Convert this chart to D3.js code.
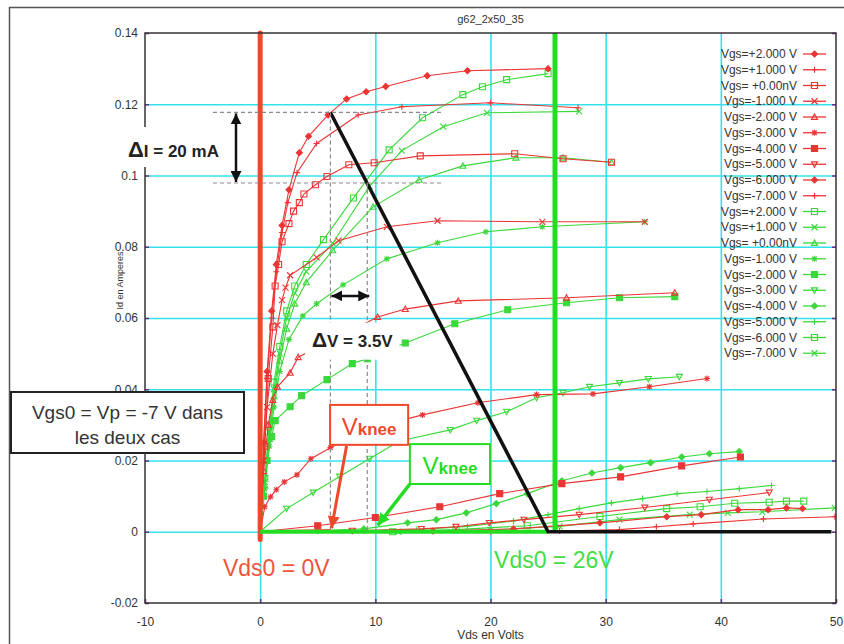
<!DOCTYPE html>
<html><head><meta charset="utf-8">
<script src="https://cdn.jsdelivr.net/npm/d3@7"></script>
<style>body{margin:0;background:#fff}svg{display:block;font-family:"Liberation Sans",Arial,sans-serif}</style>
</head><body>
<svg id="c" width="844" height="644"></svg>
<script>
// ---------- data ----------
const titleText = "g62_2x50_35";
const xTicks = [-10, 0, 10, 20, 30, 40, 50];
const xTickLabels = ["-10", "0", "10", "20", "30", "40", "50"];
const yTicks = [-0.02, 0, 0.02, 0.04, 0.06, 0.08, 0.1, 0.12, 0.14];
const yTickLabels = ["-0.02", "0", "0.02", "0.04", "0.06", "0.08", "0.1", "0.12", "0.14"];
const gridX = [0, 10, 20, 30, 40];
const gridY = [0, 0.02, 0.04, 0.06, 0.08, 0.1, 0.12];
const legendLabels = ["Vgs=+2.000 V", "Vgs=+1.000 V", "Vgs= +0.00nV", "Vgs=-1.000 V", "Vgs=-2.000 V",
  "Vgs=-3.000 V", "Vgs=-4.000 V", "Vgs=-5.000 V", "Vgs=-6.000 V", "Vgs=-7.000 V"];
const redMarkers = ["diamond", "plus", "square", "cross", "triangle", "star", "squareFilled", "triangleDown", "diamond", "plus"];
const greenMarkers = ["square", "cross", "triangle", "star", "squareFilled", "triangleDown", "diamond", "plus", "square", "cross"];

// red family (Vds0 = 0 V)
const redP2 = [[0,0],[0.3,0.025],[0.6,0.045],[1.0,0.062],[1.4,0.075],[1.9,0.086],[2.5,0.096],[3.4,0.1064],[4.2,0.111],[5.9,0.117],[7.5,0.1215],[9.2,0.1235],[10.9,0.125],[14.5,0.128],[18,0.1294],[25,0.130]];
const redP1 = [[0,0],[0.3,0.024],[0.6,0.043],[1.0,0.06],[1.4,0.073],[1.9,0.084],[2.4,0.0924],[3.2,0.1008],[4.9,0.109],[8.5,0.117],[12.3,0.1193],[20,0.1204],[27.6,0.119]];
const red0 = [[0,0],[0.4,0.024],[0.7,0.043],[1.1,0.0575],[1.3,0.069],[1.6,0.075],[1.9,0.0814],[2.5,0.0865],[2.9,0.09],[3.4,0.0924],[3.8,0.0948],[4.8,0.0974],[5.8,0.0997],[7.7,0.103],[9.9,0.1036],[13.9,0.1055],[22.1,0.1061],[26.3,0.1047],[30.5,0.1037]];
const redM1 = [[0,0],[0.3,0.02],[0.6,0.035],[1.1,0.05],[1.5,0.058],[1.9,0.065],[2.2,0.0685],[2.6,0.072],[4.9,0.077],[6.8,0.0817],[11.0,0.0856],[15.4,0.0873],[24.5,0.087],[33.4,0.087]];
const redM2 = [[0,0],[0.3,0.017],[0.7,0.03],[1.1,0.037],[1.5,0.0407],[2.6,0.0446],[3.3,0.049],[10.2,0.0603],[12.6,0.0625],[17.2,0.0648],[26.6,0.0657],[36,0.0671]];
const redM3 = [[0,0],[0.4,0.007],[0.9,0.0098],[1.4,0.0118],[2.1,0.014],[3.2,0.016],[4.4,0.0205],[6.1,0.0236],[9.5,0.029],[14.1,0.0328],[18.9,0.0362],[24,0.0385],[28.9,0.0387],[33.8,0.0407],[38.8,0.043]];
const redM4 = [[0,0],[5.0,0.0017],[10,0.004],[15.6,0.007],[20.8,0.0107],[26.2,0.0135],[31.3,0.0154],[36.6,0.0185],[41.7,0.021]];
const redM5 = [[0,0],[8,0.0003],[14,0.0008],[17,0.0014],[19.9,0.0025],[22.9,0.0034],[27.7,0.0048],[33.4,0.0068],[39,0.009],[44.2,0.011]];
const redM6 = [[0,0],[15,0.0002],[22,0.0008],[29.5,0.0025],[35.3,0.0042],[38.3,0.0048],[41.5,0.0062],[44.1,0.0062],[45.7,0.0067],[47.1,0.0065]];
const redM7 = [[0,0],[20,0.0],[26,0.0002],[31.2,0.0006],[34.4,0.0014],[37.6,0.0022],[43.7,0.0036],[49.9,0.0042]];

// green family (Vds0 = 26 V)
const greenP2 = [[0,0],[0.4,0.015],[0.8,0.03],[1.2,0.042],[1.7,0.052],[2.3,0.062],[3.0,0.069],[4.0,0.075],[5.5,0.082],[8.1,0.0937],[11.2,0.1072],[14.1,0.1162],[17.6,0.1227],[19.3,0.1249],[21.4,0.1269],[25,0.1286]];
const greenP1 = [[0,0],[0.4,0.014],[0.8,0.028],[1.2,0.04],[1.7,0.05],[2.3,0.06],[3.0,0.067],[4.0,0.073],[6.3,0.081],[9.5,0.097],[12.3,0.107],[15.9,0.1137],[19.7,0.1176],[27.7,0.118]];
const green0 = [[0,0],[0.4,0.013],[0.8,0.026],[1.2,0.038],[1.7,0.048],[2.3,0.057],[3.0,0.064],[4.0,0.07],[6.3,0.079],[9.8,0.0912],[13.8,0.0988],[17.6,0.1027],[22.2,0.105],[26.3,0.105],[30.5,0.1037]];
const greenM1 = [[0,0],[0.4,0.012],[0.8,0.024],[1.2,0.035],[1.7,0.045],[2.5,0.054],[3.7,0.0606],[4.9,0.064],[7.2,0.0693],[11.0,0.0766],[15.4,0.0811],[19.6,0.0842],[24.5,0.0856],[33.4,0.087]];
const greenM2 = [[0,0],[0.3,0.01],[0.6,0.02],[1.0,0.0267],[1.3,0.0312],[2.6,0.0351],[3.6,0.0382],[5.8,0.0427],[8.0,0.0472],[9.3,0.0486],[12.6,0.053],[16.9,0.0584],[21.5,0.0623],[26.6,0.0643],[31.2,0.0657],[36,0.066]];
const greenM3 = [[0,0],[2.3,0.0065],[4.6,0.011],[6.9,0.0155],[9.5,0.0205],[12.1,0.0255],[16.5,0.0286],[18.8,0.0312],[21.4,0.0337],[24,0.0376],[26.3,0.039],[28.6,0.0407],[31.2,0.0418],[33.7,0.0429],[36.4,0.0435]];
const greenM4 = [[0,0],[5,0.0003],[9,0.0008],[12.8,0.0025],[15.3,0.0034],[17.9,0.0053],[20.5,0.0079],[23.2,0.0107],[26.2,0.0143],[28.8,0.0165],[31.3,0.018],[33.9,0.0194],[36.6,0.021],[39,0.0219],[41.6,0.0225]];
const greenM5 = [[0,0],[9,0.0002],[13.6,0.0006],[18,0.0015],[22,0.003],[25,0.0048],[27.7,0.0065],[30.5,0.0081],[33.2,0.0093],[36.2,0.0107],[38.8,0.0113],[41.6,0.0121],[44.4,0.013]];
const greenM6 = [[0,0],[11.5,0],[17,0.0006],[23.2,0.0017],[29.5,0.0043],[35.3,0.0065],[38.2,0.007],[41.2,0.008],[44.2,0.0083],[45.7,0.0086],[47.2,0.0086]];
const greenM7 = [[0,0],[12,0],[20,0.0005],[26,0.0015],[31.2,0.0034],[37.3,0.0048],[40.6,0.0053],[43.6,0.0056],[49.9,0.0067]];

// load lines / annotations (data units)
const loadLine = [[6.1,0.1177],[25.0,0],[49.6,0]];
const vds0Red = 0, vds0Green = 25.6;
const kneeRed = 6.1, kneeGreen = 9.3;
const iHigh = 0.1177, iLow = 0.0979;

// ---------- drawing ----------
const RED = "#ec3434", GREEN = "#3ad83a", RED_THICK = "#f2482a", GREEN_THICK = "#22dd22", CYAN = "#33e2ee";
const svg = d3.select("#c");
const L = 145, R = 836, T = 33, B = 603;
const x = d3.scaleLinear().domain([-10, 50]).range([L, R]);
const y = d3.scaleLinear().domain([-0.02, 0.14]).range([B, T]);

// outer frame
svg.append("rect").attr("x", 9.5).attr("y", 7.5).attr("width", 860).attr("height", 700)
  .attr("fill", "none").attr("stroke", "#555").attr("stroke-width", 1.5);

// title
svg.append("text").attr("x", x(20)).attr("y", 23).attr("text-anchor", "middle")
  .attr("font-size", 11).attr("fill", "#333").text(titleText);

// grid
const gx = svg.append("g").attr("transform", `translate(0,${B})`)
  .call(d3.axisBottom(x).tickValues(gridX).tickSize(-(B - T)).tickFormat(""));
gx.select(".domain").remove();
gx.selectAll("line").attr("stroke", CYAN).attr("stroke-width", 1.6);
const gy = svg.append("g").attr("transform", `translate(${L},0)`)
  .call(d3.axisLeft(y).tickValues(gridY).tickSize(-(R - L)).tickFormat(""));
gy.select(".domain").remove();
gy.selectAll("line").attr("stroke", CYAN).attr("stroke-width", 1.6);

// small purple ticks
const tb = svg.append("g").attr("transform", `translate(0,${B})`)
  .call(d3.axisBottom(x).tickValues(xTicks).tickSize(-4).tickFormat(""));
tb.select(".domain").remove(); tb.selectAll("line").attr("stroke", "#6b2b86").attr("stroke-width", 1.5);
const tl = svg.append("g").attr("transform", `translate(${L},0)`)
  .call(d3.axisLeft(y).tickValues(yTicks).tickSize(-4).tickFormat(""));
tl.select(".domain").remove(); tl.selectAll("line").attr("stroke", "#6b2b86").attr("stroke-width", 1.5);
const tr = svg.append("g").attr("transform", `translate(${R},0)`)
  .call(d3.axisRight(y).tickValues(yTicks).tickSize(-4).tickFormat(""));
tr.select(".domain").remove(); tr.selectAll("line").attr("stroke", "#6b2b86").attr("stroke-width", 1.5);

// tick labels
const ax = svg.append("g").attr("transform", `translate(0,${B})`)
  .call(d3.axisBottom(x).tickValues(xTicks).tickSize(0).tickPadding(14).tickFormat((d, i) => xTickLabels[i]));
ax.select(".domain").remove();
ax.selectAll("text").attr("font-size", 12).attr("fill", "#333").attr("font-family", "Liberation Sans, Arial, sans-serif");
const ay = svg.append("g").attr("transform", `translate(${L},0)`)
  .call(d3.axisLeft(y).tickValues(yTicks).tickSize(0).tickPadding(7).tickFormat((d, i) => yTickLabels[i]));
ay.select(".domain").remove();
ay.selectAll("text").attr("font-size", 12).attr("fill", "#333").attr("font-family", "Liberation Sans, Arial, sans-serif");

// axis titles
svg.append("text").attr("x", x(20)).attr("y", 639).attr("text-anchor", "middle")
  .attr("font-size", 12).attr("fill", "#333").text("Vds en Volts");
svg.append("text").attr("transform", `translate(123,${y(0.0705)}) rotate(-90)`).attr("text-anchor", "middle")
  .attr("font-size", 9).attr("fill", "#333").text("Id en Amperes");

// clip
svg.append("defs").append("clipPath").attr("id", "plotclip")
  .append("rect").attr("x", L).attr("y", T).attr("width", R - L).attr("height", B - T);

// marker shapes
function markerPath(type, s) {
  switch (type) {
    case "diamond": return `M0,${-s}L${s},0L0,${s}L${-s},0Z`;
    case "plus": return `M${-s},0H${s}M0,${-s}V${s}`;
    case "square": case "squareFilled": return `M${-s},${-s}H${s}V${s}H${-s}Z`;
    case "cross": return `M${-s},${-s}L${s},${s}M${-s},${s}L${s},${-s}`;
    case "triangle": return `M0,${-s}L${s},${s * 0.8}L${-s},${s * 0.8}Z`;
    case "triangleDown": return `M0,${s}L${s},${-s * 0.8}L${-s},${-s * 0.8}Z`;
    case "star": { const t = s * 0.75; return `M${-s},0H${s}M0,${-s}V${s}M${-t},${-t}L${t},${t}M${-t},${t}L${t},${-t}`; }
  }
}
function markerFill(type, color) {
  return (type === "diamond" || type === "squareFilled") ? color : "none";
}

const redSeries = [redP2, redP1, red0, redM1, redM2, redM3, redM4, redM5, redM6, redM7];
const greenSeries = [greenP2, greenP1, green0, greenM1, greenM2, greenM3, greenM4, greenM5, greenM6, greenM7];

const line = d3.line().x(d => x(d[0])).y(d => y(d[1]));
const curves = svg.append("g").attr("clip-path", "url(#plotclip)");

function drawFamily(series, markers, color) {
  series.forEach((data, i) => {
    const g = curves.append("g");
    g.append("path").datum(data).attr("d", line).attr("fill", "none")
      .attr("stroke", color).attr("stroke-width", 1.1);
    g.selectAll("path.m").data(data.filter(d => !(d[0] === 0 && d[1] === 0))).join("path").attr("class", "m")
      .attr("transform", d => `translate(${x(d[0])},${y(d[1])})`)
      .attr("d", markerPath(markers[i], 3))
      .attr("fill", markerFill(markers[i], color))
      .attr("stroke", color).attr("stroke-width", 1.1);
  });
}
drawFamily(greenSeries, greenMarkers, GREEN);
drawFamily(redSeries, redMarkers, RED);

// thick reference lines
svg.append("line").attr("x1", x(vds0Red)).attr("x2", x(vds0Red)).attr("y1", y(0.14)).attr("y2", y(-0.0022))
  .attr("stroke", RED_THICK).attr("stroke-width", 5).attr("stroke-linecap", "round");
svg.append("line").attr("x1", x(vds0Red)).attr("x2", x(kneeRed)).attr("y1", y(0)).attr("y2", y(0.0004))
  .attr("stroke", RED_THICK).attr("stroke-width", 2.5);
svg.append("line").attr("x1", x(0)).attr("x2", x(25)).attr("y1", y(0)).attr("y2", y(0))
  .attr("stroke", GREEN_THICK).attr("stroke-width", 4);
svg.append("line").attr("x1", x(vds0Green)).attr("x2", x(vds0Green)).attr("y1", y(0.14)).attr("y2", y(0))
  .attr("stroke", GREEN_THICK).attr("stroke-width", 5);
svg.append("path").datum(loadLine).attr("d", line).attr("fill", "none")
  .attr("stroke", "#111").attr("stroke-width", 3.5);

// dashed construction lines
const dash = svg.append("g").attr("stroke", "#8a8a8a").attr("stroke-width", 1.2).attr("stroke-dasharray", "4,3");
dash.append("line").attr("x1", x(-4.1)).attr("x2", x(15.8)).attr("y1", y(iHigh)).attr("y2", y(iHigh));
dash.append("line").attr("x1", x(-4.1)).attr("x2", x(15.8)).attr("y1", y(iLow)).attr("y2", y(iLow));
dash.append("line").attr("x1", x(kneeRed)).attr("x2", x(kneeRed)).attr("y1", y(iHigh)).attr("y2", y(0));
dash.append("line").attr("x1", x(kneeGreen)).attr("x2", x(kneeGreen)).attr("y1", y(iLow)).attr("y2", y(0));

// arrowheads
const defs = svg.select("defs");
function arrowDef(id, color, w, h) {
  defs.append("marker").attr("id", id).attr("viewBox", `0 0 ${w} ${h}`).attr("refX", w).attr("refY", h / 2)
    .attr("markerWidth", w).attr("markerHeight", h).attr("markerUnits", "userSpaceOnUse").attr("orient", "auto-start-reverse")
    .append("path").attr("d", `M0,0L${w},${h / 2}L0,${h}Z`).attr("fill", color);
}
arrowDef("ab", "#111", 11, 11);
arrowDef("ar", RED_THICK, 12, 12);
arrowDef("ag", GREEN_THICK, 12, 12);

// ΔI arrow + text (text has white background covering the axis)
svg.append("rect").attr("x", 124).attr("y", 127).attr("width", 103).attr("height", 40).attr("fill", "#fff");
svg.append("line").attr("x1", 236).attr("x2", 236).attr("y1", y(iHigh) + 1).attr("y2", y(iLow) - 1)
  .attr("stroke", "#111").attr("stroke-width", 2.5)
  .attr("marker-start", "url(#ab)").attr("marker-end", "url(#ab)");
const dI = svg.append("text").attr("x", 128).attr("y", 157).attr("fill", "#222").attr("font-weight", "bold");
dI.append("tspan").attr("font-size", 22).text("Δ");
dI.append("tspan").attr("font-size", 17).text("I = 20 mA");

// ΔV arrow + text
svg.append("line").attr("x1", x(kneeRed) + 1).attr("x2", x(kneeGreen) + 2).attr("y1", y(0.0662)).attr("y2", y(0.0662))
  .attr("stroke", "#111").attr("stroke-width", 2.5)
  .attr("marker-start", "url(#ab)").attr("marker-end", "url(#ab)");
svg.append("rect").attr("x", x(3.9)).attr("y", y(0.0587)).attr("width", x(12.1) - x(3.9)).attr("height", y(0.0483) - y(0.0587))
  .attr("fill", "#fff");
const dV = svg.append("text").attr("x", x(8.0)).attr("y", y(0.0518)).attr("text-anchor", "middle").attr("fill", "#222").attr("font-weight", "bold");
dV.append("tspan").attr("font-size", 21).text("Δ");
dV.append("tspan").attr("font-size", 17).text("V = 3.5V");

// Vgs0 box
svg.append("rect").attr("x", 11).attr("y", 392).attr("width", 233).attr("height", 61)
  .attr("fill", "#fff").attr("stroke", "#222").attr("stroke-width", 2);
svg.append("text").attr("x", 127.5).attr("y", 419).attr("text-anchor", "middle").attr("font-size", 19).attr("fill", "#333").text("Vgs0 = Vp = -7 V dans");
svg.append("text").attr("x", 127.5).attr("y", 444).attr("text-anchor", "middle").attr("font-size", 19).attr("fill", "#333").text("les deux cas");

// Vknee boxes and arrows
function kneeBox(x0, y0, x1, y1, color) {
  svg.append("rect").attr("x", x(x0)).attr("y", y(y0)).attr("width", x(x1) - x(x0)).attr("height", y(y1) - y(y0))
    .attr("fill", "#fff").attr("stroke", color).attr("stroke-width", 2);
  const t = svg.append("text").attr("x", (x(x0) + x(x1)) / 2).attr("y", y(y1) - 10).attr("text-anchor", "middle").attr("fill", color);
  t.append("tspan").attr("font-size", 24).text("V");
  t.append("tspan").attr("font-size", 17).attr("font-weight", "bold").text("knee");
}
kneeBox(6.07, 0.0356, 12.85, 0.0244, RED_THICK);
kneeBox(13.0, 0.0246, 19.96, 0.0134, GREEN_THICK);
svg.append("line").attr("x1", x(7.5)).attr("y1", y(0.0241)).attr("x2", x(6.2)).attr("y2", y(0.0010))
  .attr("stroke", RED_THICK).attr("stroke-width", 3).attr("marker-end", "url(#ar)");
svg.append("line").attr("x1", x(13.0)).attr("y1", y(0.0134)).attr("x2", x(10.2)).attr("y2", y(0.0018))
  .attr("stroke", GREEN_THICK).attr("stroke-width", 3.5).attr("marker-end", "url(#ag)");

// Vds0 labels
svg.append("text").attr("x", x(1.4)).attr("y", y(-0.0124)).attr("text-anchor", "middle")
  .attr("font-size", 23).attr("fill", "#f0553a").text("Vds0 = 0V");
svg.append("text").attr("x", x(25.5)).attr("y", y(-0.0102)).attr("text-anchor", "middle")
  .attr("font-size", 23).attr("fill", "#44dd44").text("Vds0 = 26V");

// plot frame (left edge drawn in pieces so the annotation backgrounds interrupt it)
svg.append("path")
  .attr("d", `M${L},127V${T}H${R}V${B}H${L}V453M${L},392V167`)
  .attr("fill", "none").attr("stroke", "#333").attr("stroke-width", 1.5);

// legend
const legend = svg.append("g");
const allLabels = legendLabels.concat(legendLabels);
const allMarkers = redMarkers.concat(greenMarkers);
allLabels.forEach((lab, i) => {
  const color = i < 10 ? RED : GREEN;
  const yy = 54 + i * 15.75;
  legend.append("text").attr("x", 797).attr("y", yy + 4).attr("text-anchor", "end")
    .attr("font-size", 12).attr("fill", "#333").text(lab);
  legend.append("line").attr("x1", 803).attr("x2", 826).attr("y1", yy).attr("y2", yy)
    .attr("stroke", color).attr("stroke-width", 1.3);
  legend.append("path").attr("transform", `translate(814.5,${yy})`).attr("d", markerPath(allMarkers[i], 3))
    .attr("fill", markerFill(allMarkers[i], color)).attr("stroke", color).attr("stroke-width", 1.2);
});
</script>
</body></html>
